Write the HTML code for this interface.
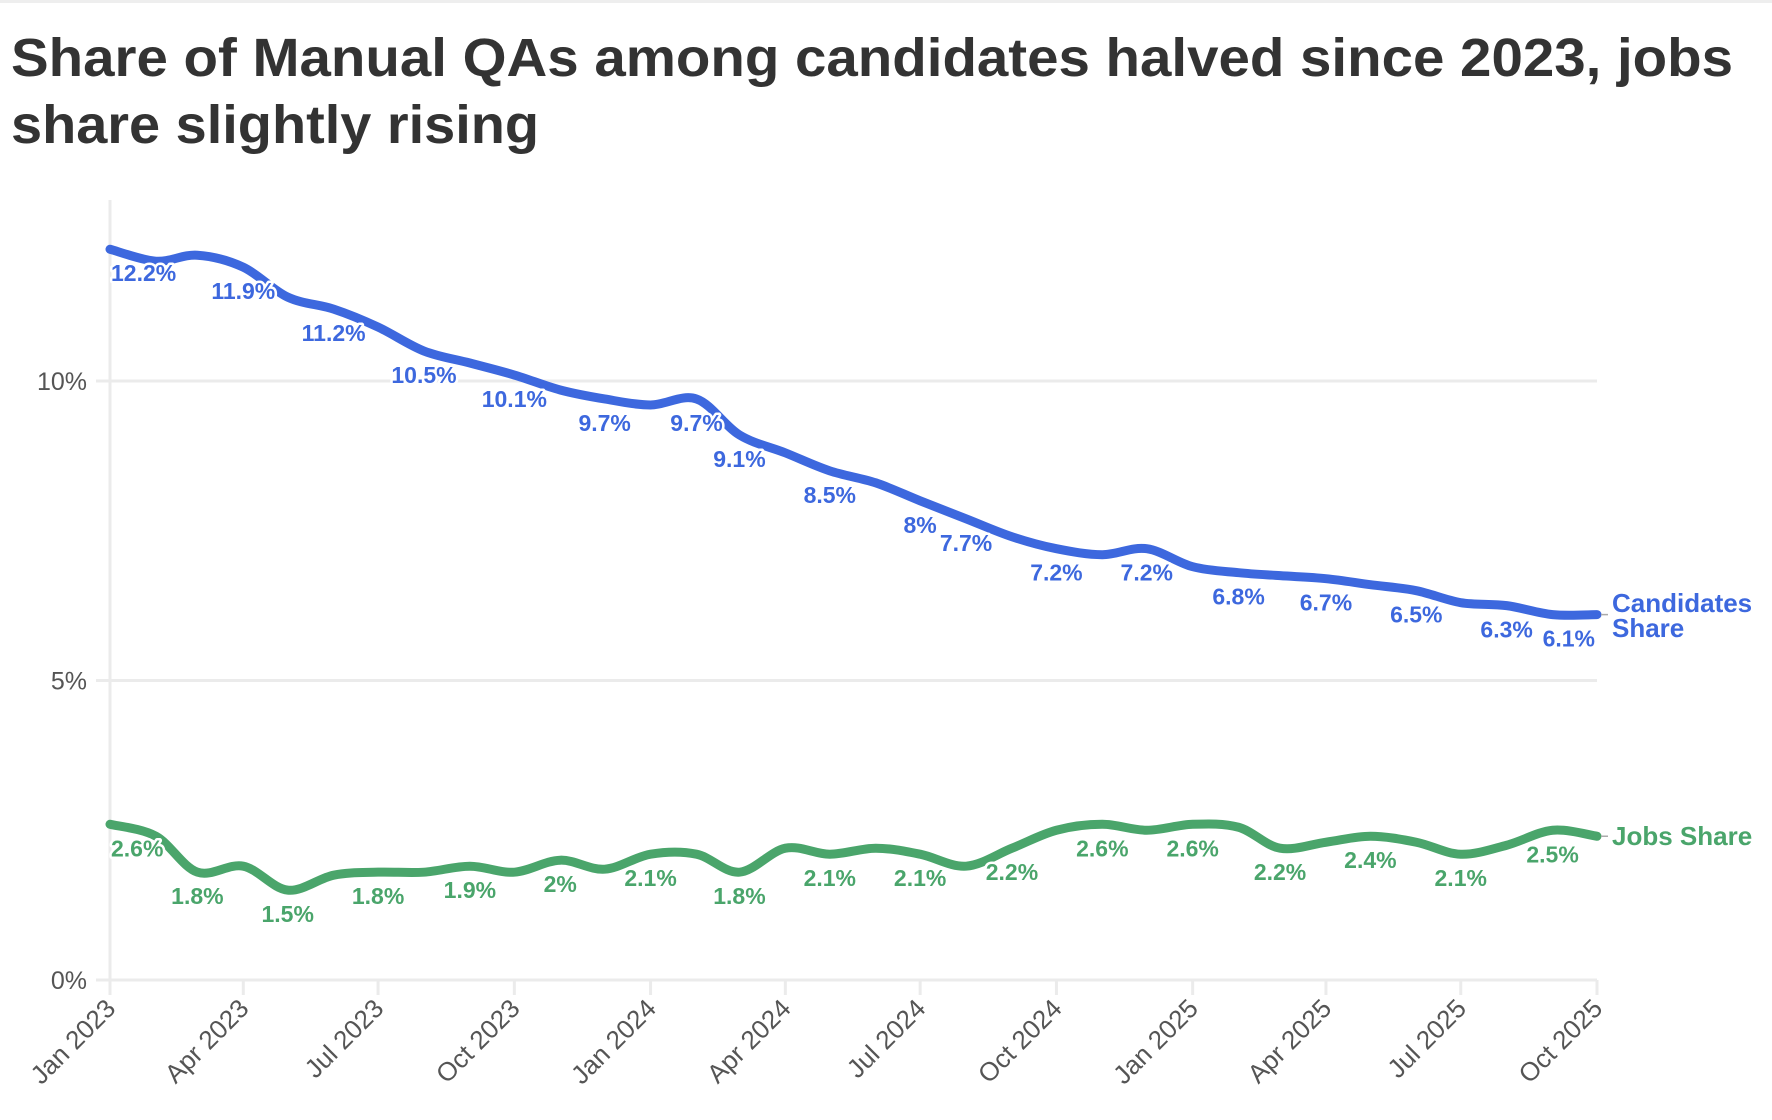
<!DOCTYPE html>
<html><head><meta charset="utf-8">
<style>
html,body{margin:0;padding:0;background:#fff;}
svg{display:block;font-family:"Liberation Sans",sans-serif;}
</style></head>
<body>
<svg id="chart" width="1772" height="1120" viewBox="0 0 1772 1120" xmlns="http://www.w3.org/2000/svg">
<rect x="0" y="0" width="1772" height="3" fill="#eeeeee"/>
<text x="11" y="76" font-size="54" font-weight="bold" fill="#333" textLength="1722" lengthAdjust="spacingAndGlyphs">Share of Manual QAs among candidates halved since 2023, jobs</text>
<text x="11" y="143" font-size="54" font-weight="bold" fill="#333" textLength="528" lengthAdjust="spacingAndGlyphs">share slightly rising</text>
<g id="grid"></g><g id="axes"></g><g id="lines"></g><g id="labels"></g>
</svg>
<script>
const months = ["2023-01","2023-02","2023-03","2023-04","2023-05","2023-06","2023-07","2023-08","2023-09","2023-10","2023-11","2023-12","2024-01","2024-02","2024-03","2024-04","2024-05","2024-06","2024-07","2024-08","2024-09","2024-10","2024-11","2024-12","2025-01","2025-02","2025-03","2025-04","2025-05","2025-06","2025-07","2025-08","2025-09","2025-10"];
const candidates = [12.2,12.0,12.1,11.9,11.4,11.2,10.9,10.5,10.3,10.1,9.85,9.7,9.6,9.7,9.1,8.8,8.5,8.3,8.0,7.7,7.4,7.2,7.1,7.2,6.9,6.8,6.75,6.7,6.6,6.5,6.3,6.25,6.1,6.1];
const jobs = [2.6,2.4,1.8,1.9,1.5,1.75,1.8,1.8,1.9,1.8,2.0,1.85,2.1,2.1,1.8,2.2,2.1,2.2,2.1,1.9,2.2,2.5,2.6,2.5,2.6,2.55,2.2,2.3,2.4,2.3,2.1,2.25,2.5,2.4];
const candLabelIdx = [0,3,5,7,9,11,13,14,16,18,19,21,23,25,27,29,31,33];
const jobsLabelIdx = [0,2,4,6,8,10,12,14,16,18,20,22,24,26,28,30,32];
const yTicks = [0,5,10];
const xTickLabels = ["Jan 2023","Apr 2023","Jul 2023","Oct 2023","Jan 2024","Apr 2024","Jul 2024","Oct 2024","Jan 2025","Apr 2025","Jul 2025","Oct 2025"];
const xTickDates = ["2023-01","2023-04","2023-07","2023-10","2024-01","2024-04","2024-07","2024-10","2025-01","2025-04","2025-07","2025-10"];

const NS="http://www.w3.org/2000/svg";
const X0=110,X1=1597,Y0=980,Y10=381;
const t0=Date.parse(months[0]+"-01"), t1=Date.parse(months[months.length-1]+"-01");
function x(m){return X0+(Date.parse(m+"-01")-t0)/(t1-t0)*(X1-X0);}
function y(v){return Y0+(Y10-Y0)*v/10;}
function el(tag,attrs,parent){const e=document.createElementNS(NS,tag);for(const k in attrs)e.setAttribute(k,attrs[k]);parent.appendChild(e);return e;}
const grid=document.getElementById('grid'),axes=document.getElementById('axes'),lines=document.getElementById('lines'),labels=document.getElementById('labels');

yTicks.forEach(v=>{
  const g=el('line',{x1:X0-14,x2:X1,y1:y(v),y2:y(v),stroke:'#ebebeb','stroke-width':3},grid);
  
  
  const t=el('text',{x:87,y:y(v)+9,'text-anchor':'end','font-size':25,fill:'#555'},axes);
  t.textContent=v+'%';
  
  
});
const ya=el('line',{x1:X0,x2:X0,y1:200,y2:Y0+12,stroke:'#ebebeb','stroke-width':3},grid);


xTickDates.forEach((d,i)=>{
  const xx=x(d);
  const tk=el('line',{x1:xx,x2:xx,y1:Y0,y2:Y0+15,stroke:'#ebebeb','stroke-width':3},axes);
  
  
  const t=el('text',{x:xx+7,y:Y0+30,'text-anchor':'end','font-size':26,fill:'#555',transform:`rotate(-45 ${xx+7} ${Y0+30})`},axes);
  t.textContent=xTickLabels[i];
  
  
});
function smooth(pts){
  let d=`M${pts[0][0]},${pts[0][1]}`;
  for(let i=0;i<pts.length-1;i++){
    const p0=pts[Math.max(0,i-1)],p1=pts[i],p2=pts[i+1],p3=pts[Math.min(pts.length-1,i+2)];
    const c1=[p1[0]+(p2[0]-p0[0])/6,p1[1]+(p2[1]-p0[1])/6];
    const c2=[p2[0]-(p3[0]-p1[0])/6,p2[1]-(p3[1]-p1[1])/6];
    d+=` C${c1[0]},${c1[1]} ${c2[0]},${c2[1]} ${p2[0]},${p2[1]}`;
  }
  return d;
}
function series(vals,color,name,idx,endLines,endY){
  const pts=vals.map((v,i)=>[x(months[i]),y(v)]);
  const p=el('path',{d:smooth(pts),fill:'none',stroke:color,'stroke-width':9,'stroke-linecap':'round'},lines);
  
  
  idx.forEach(i=>{
    const px=pts[i][0],py=pts[i][1];
    const txt=vals[i].toFixed(1).replace(/\.0$/,'')+'%';
    let anchor='middle',tx=px;
    if(i===0){anchor='start';tx=px+1;}
    if(i===vals.length-1){anchor='end';tx=px-2;}
    const t=el('text',{x:tx,y:py+32,'text-anchor':anchor,'font-size':23,'font-weight':'bold',fill:color,stroke:'#fff','stroke-width':5,'paint-order':'stroke','stroke-linejoin':'round'},labels);
    t.textContent=txt;
    
    
  });
  const last=pts[pts.length-1];
  const c=el('line',{x1:last[0]+4,x2:1608,y1:last[1],y2:last[1],stroke:'#aaa','stroke-width':1.5},labels);
  
  
  endLines.forEach((s,k)=>{
    const t=el('text',{x:1612,y:endY+k*25,'font-size':26,'font-weight':'bold',fill:color},labels);
    t.textContent=s;
    
    
  });
}
series(candidates,'#3d68de','candidates-share',candLabelIdx,['Candidates','Share'],612);
series(jobs,'#4aa56b','jobs-share',jobsLabelIdx,['Jobs Share'],845);
</script>
</body></html>
